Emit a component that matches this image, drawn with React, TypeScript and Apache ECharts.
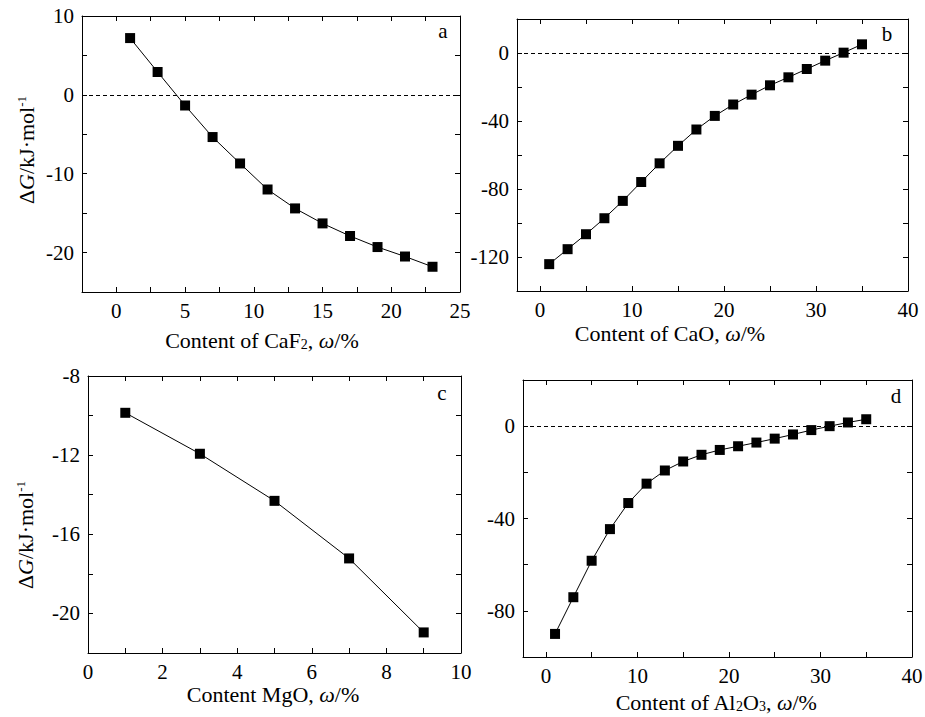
import React, { useEffect, useRef } from "react";
import * as echarts from "echarts";

const xA = [1, 3, 5, 7, 9, 11, 13, 15, 17, 19, 21, 23];
const yA = [7.2, 2.9, -1.35, -5.35, -8.7, -12.0, -14.4, -16.3, -17.9, -19.3, -20.5, -21.8];

const xB = [1, 3, 5, 7, 9, 11, 13, 15, 17, 19, 21, 23, 25, 27, 29, 31, 33, 35];
const yB = [-124.2, -115.4, -106.6, -97.2, -87.0, -75.9, -64.9, -54.6, -45.0, -37.0, -30.3, -24.5, -19.0, -14.3, -9.4, -4.5, 0.2, 5.1];

const xC = [1, 3, 5, 7, 9];
const yC = [-9.86, -11.93, -14.31, -17.22, -20.96];

const xD = [1, 3, 5, 7, 9, 11, 13, 15, 17, 19, 21, 23, 25, 27, 29, 31, 33, 35];
const yD = [-90.0, -74.1, -58.3, -44.6, -33.3, -24.9, -19.2, -15.3, -12.4, -10.3, -8.7, -7.1, -5.4, -3.6, -1.7, 0, 1.6, 3.0];

// axis ticks and tick labels
const xTicksA = [0, 2.5, 5, 7.5, 10, 12.5, 15, 17.5, 20, 22.5];
const xLabelsA = [0, 5, 10, 15, 20, 25];
const yTicksA = [-20, -15, -10, -5, 0, 5];
const yLabelsA = [-20, -10, 0, 10];

const xTicksB = [0, 5, 10, 15, 20, 25, 30, 35];
const xLabelsB = [0, 10, 20, 30, 40];
const yTicksB = [-120, -100, -80, -60, -40, -20, 0];
const yLabelsB = [-120, -80, -40, 0];

const xTicksC = [1, 2, 3, 4, 5, 6, 7, 8, 9];
const xLabelsC = [0, 2, 4, 6, 8, 10];
const yTicksC = [-20, -18, -16, -14, -12, -10];
const yLabelsC = [-20, -16, -12, -8];

const xTicksD = [0, 5, 10, 15, 20, 25, 30, 35];
const xLabelsD = [0, 10, 20, 30, 40];
const yTicksD = [-80, -60, -40, -20, 0];
const yLabelsD = [-80, -40, 0];

const FONT = "Liberation Serif";

export default function App() {
  const ref = useRef<HTMLDivElement>(null);
  useEffect(() => {
    if (!ref.current) return;
    const chart = echarts.init(ref.current, null, { renderer: "svg" });

    const panels = [
      { grid: { left: 82, top: 16, width: 378, height: 276 }, x: xA, y: yA, xr: [-2.5, 25], yr: [-25, 10], xt: xTicksA, xl: xLabelsA, yt: yTicksA, yl: yLabelsA, zero: true },
      { grid: { left: 517, top: 19, width: 391, height: 272 }, x: xB, y: yB, xr: [-2.5, 40], yr: [-140, 20], xt: xTicksB, xl: xLabelsB, yt: yTicksB, yl: yLabelsB, zero: true },
      { grid: { left: 88, top: 376, width: 373, height: 277 }, x: xC, y: yC, xr: [0, 10], yr: [-22, -8], xt: xTicksC, xl: xLabelsC, yt: yTicksC, yl: yLabelsC, zero: false },
      { grid: { left: 523, top: 380, width: 389, height: 277 }, x: xD, y: yD, xr: [-2.5, 40], yr: [-100, 20], xt: xTicksD, xl: xLabelsD, yt: yTicksD, yl: yLabelsD, zero: true },
    ];

    const grids: any[] = [];
    const xAxes: any[] = [];
    const yAxes: any[] = [];
    const series: any[] = [];

    const mkLine = () => ({ show: true, onZero: false, lineStyle: { color: "#000", width: 1 } });
    const tick = (vals: number[]) => ({ inside: true, length: 5, customValues: vals, lineStyle: { color: "#000", width: 1 } });

    panels.forEach((p, i) => {
      grids.push({ ...p.grid });
      xAxes.push({ type: "value", gridIndex: i, position: "bottom", min: p.xr[0], max: p.xr[1], axisLine: mkLine(), axisTick: tick(p.xt), axisLabel: { show: false }, splitLine: { show: false } });
      xAxes.push({ type: "value", gridIndex: i, position: "top", min: p.xr[0], max: p.xr[1], axisLine: mkLine(), axisTick: tick(p.xt), axisLabel: { show: false }, splitLine: { show: false } });
      yAxes.push({ type: "value", gridIndex: i, position: "left", min: p.yr[0], max: p.yr[1], axisLine: mkLine(), axisTick: tick(p.yt), axisLabel: { show: false }, splitLine: { show: false } });
      yAxes.push({ type: "value", gridIndex: i, position: "right", min: p.yr[0], max: p.yr[1], axisLine: mkLine(), axisTick: tick(p.yt), axisLabel: { show: false }, splitLine: { show: false } });
      series.push({
        type: "line",
        xAxisIndex: i * 2,
        yAxisIndex: i * 2,
        data: p.x.map((v, k) => [v, p.y[k]]),
        symbol: "rect",
        symbolSize: 10,
        itemStyle: { color: "#000" },
        lineStyle: { color: "#000", width: 1 },
        markLine: p.zero
          ? {
              silent: true,
              symbol: ["none", "none"],
              label: { show: false },
              lineStyle: { color: "#000", type: [4, 3], width: 1 },
              data: [{ yAxis: 0 }],
            }
          : undefined,
      });
    });

    chart.setOption({
      animation: false,
      backgroundColor: "#fff",
      grid: grids,
      xAxis: xAxes,
      yAxis: yAxes,
      series,
    });

    const rich = {
      i: { fontStyle: "italic", fontSize: 22, fontFamily: FONT, fill: "#000" },
      sup: { fontSize: 13, fontFamily: FONT, verticalAlign: "top", fill: "#000" },
      sub: { fontSize: 14, fontFamily: FONT, verticalAlign: "bottom", fill: "#000" },
    };

    const txt = (x: number, y: number, text: string, rot = 0, size = 22, align = "center", vAlign = "middle") => ({
      type: "text",
      x,
      y,
      rotation: rot,
      silent: true,
      style: { text, fontSize: size, fontFamily: FONT, fill: "#000", align, verticalAlign: vAlign, rich },
    });

    // tick labels placed through the axes' own scales
    const tickLabels: any[] = [];
    panels.forEach((p, i) => {
      const g = p.grid;
      p.xl.forEach((v) => {
        const px = chart.convertToPixel({ xAxisIndex: i * 2 } as any, v) as number;
        tickLabels.push(txt(px, g.top + g.height + 8, String(v), 0, 21, "center", "top"));
      });
      p.yl.forEach((v) => {
        const py = chart.convertToPixel({ yAxisIndex: i * 2 } as any, v) as number;
        tickLabels.push(txt(g.left - 8, py, String(v), 0, 21, "right", "middle"));
      });
    });

    const yName = "Δ{i|G}/kJ·mol{sup|-1}";

    chart.setOption({
      graphic: [
        ...tickLabels,
        txt(262, 340, "Content of CaF{sub|2}, {i|ω}/%"),
        txt(670, 333, "Content of CaO, {i|ω}/%"),
        txt(273, 694, "Content MgO, {i|ω}/%"),
        txt(716, 702, "Content of Al{sub|2}O{sub|3}, {i|ω}/%"),
        txt(26, 150, yName, Math.PI / 2),
        txt(25, 535, yName, Math.PI / 2),
        txt(443, 31, "a", 0, 21),
        txt(887, 34, "b", 0, 21),
        txt(442, 393, "c", 0, 21),
        txt(896, 396, "d", 0, 21),
      ],
    });
    return () => chart.dispose();
  }, []);
  return <div ref={ref} style={{ width: 925, height: 717, position: "absolute", left: 0, top: 0 }} />;
}
